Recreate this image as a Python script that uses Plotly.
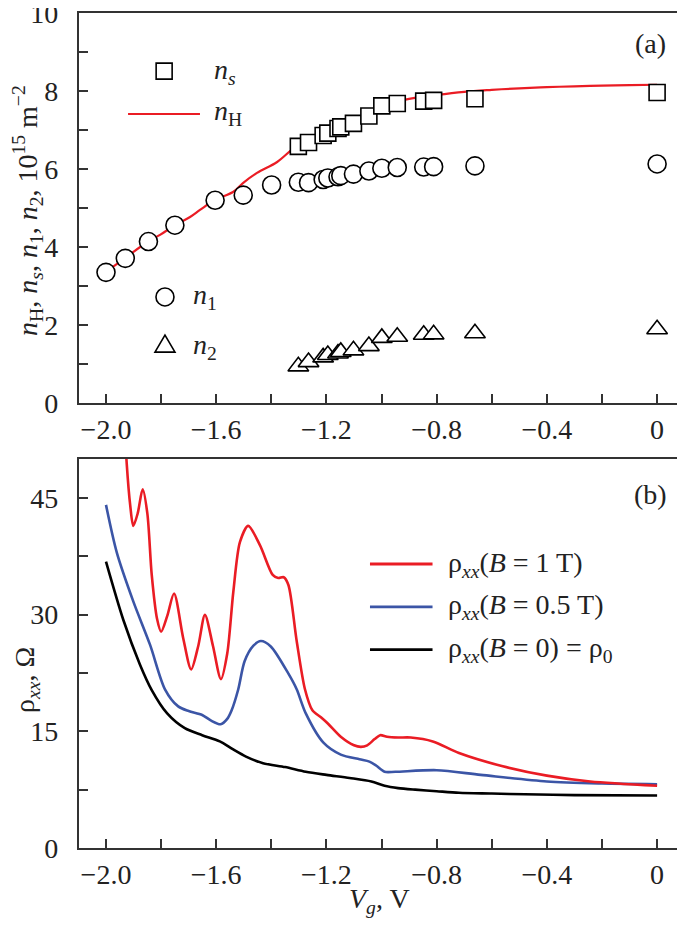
import plotly.graph_objects as go

# ---- panel (a): carrier densities, 10^15 m^-2 ----
vg_early = [-2.0, -1.93, -1.846, -1.75, -1.604, -1.502, -1.399]
n1_early = [3.35, 3.71, 4.14, 4.56, 5.20, 5.33, 5.59]

vg_common = [-1.302, -1.265, -1.212, -1.195, -1.158, -1.148, -1.102,
             -1.046, -0.999, -0.943, -0.847, -0.811, -0.661, 0.0]
n1_common = [5.66, 5.65, 5.73, 5.77, 5.80, 5.83, 5.87,
             5.95, 6.02, 6.04, 6.05, 6.06, 6.08, 6.13]
ns_vals = [6.58, 6.68, 6.86, 6.92, 7.04, 7.08, 7.17,
           7.36, 7.62, 7.68, 7.74, 7.76, 7.80, 7.96]
n2_vals = [0.94, 1.05, 1.17, 1.23, 1.27, 1.31, 1.35,
           1.46, 1.67, 1.70, 1.75, 1.76, 1.79, 1.89]

nh_vg = [-1.975, -1.93, -1.85, -1.804, -1.75, -1.695, -1.659, -1.604, -1.539,
         -1.503, -1.452, -1.379, -1.325, -1.30, -1.25, -1.20, -1.15, -1.10,
         -1.05, -1.00, -0.95, -0.90, -0.80, -0.70, -0.60, -0.50, -0.40,
         -0.30, -0.20, -0.10, 0.0]
nh_vals = [3.49, 3.72, 4.13, 4.31, 4.56, 4.77, 4.95, 5.21, 5.41,
           5.64, 5.90, 6.18, 6.50, 6.62, 6.76, 6.90, 7.05, 7.20,
           7.40, 7.62, 7.72, 7.80, 7.90, 7.98, 8.03, 8.07, 8.10,
           8.12, 8.14, 8.15, 8.16]

# ---- panel (b): rho_xx, Ohm ----
b1_vg = [-1.93, -1.925, -1.912, -1.901, -1.885, -1.867, -1.85, -1.834, -1.815,
         -1.800, -1.778, -1.753, -1.72, -1.691, -1.665, -1.641, -1.612, -1.583,
         -1.56, -1.538, -1.514, -1.484, -1.441, -1.395, -1.375, -1.355, -1.338,
         -1.308, -1.278, -1.251, -1.22, -1.195, -1.148, -1.10, -1.075, -1.052,
         -1.025, -1.005, -0.98, -0.94, -0.894, -0.814, -0.719, -0.56, -0.40,
         -0.243, 0.0]
b1_rho = [53, 49.5, 44, 41.4, 43, 46.1, 43, 35.1, 29.5,
          27.8, 29.8, 32.7, 27, 22.95, 26, 29.96, 26, 21.7,
          25, 32.9, 39.3, 41.4, 38.9, 35.1, 34.7, 34.8, 33.8,
          26.6, 20.4, 17.7, 16.8, 16.0, 14.3, 13.2, 13.0, 13.2,
          14.0, 14.5, 14.3, 14.2, 14.2, 13.7, 12.2, 10.5, 9.3,
          8.55, 8.0]

b05_vg = [-2.0, -1.961, -1.901, -1.840, -1.786, -1.738, -1.70, -1.651, -1.62,
          -1.584, -1.56, -1.544, -1.52, -1.497, -1.465, -1.438, -1.402, -1.338,
          -1.308, -1.275, -1.21, -1.148, -1.08, -1.044, -1.02, -0.989, -0.95,
          -0.8, -0.64, -0.40, -0.2, 0.0]
b05_rho = [44.1, 38.0, 31.7, 26.1, 20.4, 18.2, 17.6, 17.1, 16.4,
           15.9, 16.6, 17.7, 20.4, 24.0, 26.0, 26.6, 25.9, 22.4,
           20.4, 17.3, 13.5, 12.0, 11.4, 11.1, 10.6, 9.8, 9.8,
           10.0, 9.4, 8.55, 8.3, 8.2]

b0_vg = [-2.0, -1.937, -1.877, -1.834, -1.778, -1.714, -1.651, -1.587, -1.54,
         -1.492, -1.43, -1.35, -1.275, -1.20, -1.116, -1.037, -0.989, -0.94,
         -0.878, -0.80, -0.719, -0.60, -0.48, -0.30, 0.0]
b0_rho = [36.8, 29.3, 23.6, 20.3, 17.3, 15.4, 14.5, 13.7, 12.7,
          11.75, 10.9, 10.4, 9.8, 9.4, 9.0, 8.55, 8.0, 7.7,
          7.5, 7.3, 7.1, 7.0, 6.9, 6.8, 6.75]

x_ticks = [-2.0, -1.6, -1.2, -0.8, -0.4, 0.0]
x_ticktext = ["\u22122.0", "\u22121.6", "\u22121.2", "\u22120.8", "\u22120.4", "0"]
ya_ticks = [0, 2, 4, 6, 8, 10]
yb_ticks = [0, 15, 30, 45]

RED = "#ea1c24"
BLUE = "#3b55a6"
FONT = "Liberation Serif"
AXC = "#333333"
FS = 28

open_marker = lambda sym, size: dict(symbol=sym, size=size, color="white",
                                      line=dict(color="black", width=1.6))

fig = go.Figure()
fig.add_trace(go.Scatter(x=nh_vg, y=nh_vals, mode="lines", line=dict(color=RED, width=2.2, shape="spline"),
                         xaxis="x", yaxis="y", showlegend=False))
fig.add_trace(go.Scatter(x=vg_early + vg_common, y=n1_early + n1_common, mode="markers",
                         marker=open_marker("circle", 18), xaxis="x", yaxis="y", showlegend=False))
fig.add_trace(go.Scatter(x=vg_common, y=ns_vals, mode="markers",
                         marker=open_marker("square", 16), xaxis="x", yaxis="y", showlegend=False))
fig.add_trace(go.Scatter(x=vg_common, y=n2_vals, mode="markers",
                         marker=open_marker("triangle-up", 18), xaxis="x", yaxis="y", showlegend=False))

fig.add_trace(go.Scatter(x=b0_vg, y=b0_rho, mode="lines", line=dict(color="black", width=2.6, shape="spline", smoothing=0.8),
                         xaxis="x2", yaxis="y2", showlegend=False))
fig.add_trace(go.Scatter(x=b05_vg, y=b05_rho, mode="lines", line=dict(color=BLUE, width=2.6, shape="spline", smoothing=0.8),
                         xaxis="x2", yaxis="y2", showlegend=False))
fig.add_trace(go.Scatter(x=b1_vg, y=b1_rho, mode="lines", line=dict(color=RED, width=2.6, shape="spline", smoothing=0.8),
                         xaxis="x2", yaxis="y2", showlegend=False))

axis_common = dict(showline=True, linecolor=AXC, linewidth=2.4, mirror=True,
                   ticks="inside", ticklen=9, tickwidth=2, tickcolor=AXC,
                   showgrid=False, zeroline=False, automargin=False,
                   tickfont=dict(family=FONT, size=FS, color="#222"))
xaxis_common = dict(axis_common, range=[-2.098, 0.094], tickvals=x_ticks, ticktext=x_ticktext,
                    minor=dict(dtick=0.2, tick0=0, ticks="inside", ticklen=9, tickwidth=2, tickcolor=AXC),
                    ticklabelstandoff=0)

# the page body adds an 8 px offset, so margins are shifted to compensate
fig.update_layout(
    width=685, height=930,
    margin=dict(l=71, r=10, t=5, b=90, autoexpand=False),
    paper_bgcolor="white", plot_bgcolor="white",
    font=dict(family=FONT, size=FS, color="#222"),
    showlegend=False,
    xaxis=dict(xaxis_common, anchor="y", domain=[0, 1]),
    yaxis=dict(axis_common, anchor="x", domain=[0.5329, 1], range=[0, 10],
               tickvals=ya_ticks, ticktext=[str(t) for t in ya_ticks], ticklabeloverflow="allow",
               minor=dict(dtick=1, ticks="inside", ticklen=9, tickwidth=2, tickcolor=AXC),
               ticklabelstandoff=13),
    xaxis2=dict(xaxis_common, anchor="y2", domain=[0, 1]),
    yaxis2=dict(axis_common, anchor="x2", domain=[0, 0.4659], range=[0, 50],
                tickvals=yb_ticks, ticktext=[str(t) for t in yb_ticks],
                minor=dict(dtick=7.5, ticks="inside", ticklen=9, tickwidth=2, tickcolor=AXC),
                ticklabelstandoff=13),
)

# legend symbols for panel (a)
sym = dict(xref="x", yref="y", xsizemode="pixel", ysizemode="pixel",
           line=dict(color="black", width=1.6), fillcolor="white")
fig.add_shape(type="rect", xanchor=-1.789, yanchor=8.51, x0=-8, x1=8, y0=-8, y1=8, **sym)
fig.add_shape(type="circle", xanchor=-1.786, yanchor=2.72, x0=-9, x1=9, y0=-9, y1=9, **sym)
fig.add_shape(type="path", xanchor=-1.786, yanchor=1.46, path="M-10,-6 L10,-6 L0,11 Z", **sym)
fig.add_shape(type="line", xref="x", yref="y", x0=-1.92, x1=-1.659, y0=7.41, y1=7.41,
              line=dict(color=RED, width=2.2))

# legend lines for panel (b)
for yv, col in [(36.5, RED), (31.0, BLUE), (25.5, "black")]:
    fig.add_shape(type="line", xref="x2", yref="y2", x0=-1.042, x1=-0.815, y0=yv, y1=yv,
                  line=dict(color=col, width=2.8))

ann = dict(showarrow=False, font=dict(family=FONT, size=FS, color="#222"), yanchor="middle")
fig.add_annotation(x=-1.615, y=8.49, xref="x", yref="y", xanchor="left", text="<i>n<sub>s</sub></i>", **ann)
fig.add_annotation(x=-1.615, y=7.45, xref="x", yref="y", xanchor="left", text="<i>n</i><sub>H</sub>", **ann)
fig.add_annotation(x=-1.693, y=2.72, xref="x", yref="y", xanchor="left", text="<i>n</i><sub>1</sub>", **ann)
fig.add_annotation(x=-1.693, y=1.46, xref="x", yref="y", xanchor="left", text="<i>n</i><sub>2</sub>", **ann)
fig.add_annotation(x=-0.0254, y=9.23, xref="x", yref="y", xanchor="center", text="(a)", **ann)
fig.add_annotation(x=-0.0254, y=45.46, xref="x2", yref="y2", xanchor="center", text="(b)", **ann)

fig.add_annotation(x=-0.767, y=36.5, xref="x2", yref="y2", xanchor="left",
                   text="\u03c1<sub><i>xx</i></sub>(<i>B</i> = 1 T)", **ann)
fig.add_annotation(x=-0.767, y=31.0, xref="x2", yref="y2", xanchor="left",
                   text="\u03c1<sub><i>xx</i></sub>(<i>B</i> = 0.5 T)", **ann)
fig.add_annotation(x=-0.767, y=25.5, xref="x2", yref="y2", xanchor="left",
                   text="\u03c1<sub><i>xx</i></sub>(<i>B</i> = 0) = \u03c1<sub>0</sub>", **ann)

# axis titles
fig.add_annotation(x=-0.0844, y=0.763, xref="paper", yref="paper", textangle=-90, xanchor="center",
                   text="<i>n</i><sub>H</sub>, <i>n<sub>s</sub></i>, <i>n</i><sub>1</sub>, <i>n</i><sub>2</sub>, 10<sup>15</sup> m<sup>\u22122</sup>",
                   **ann)
fig.add_annotation(x=-0.088, y=0.201, xref="paper", yref="paper", textangle=-90, xanchor="center",
                   text="\u03c1<sub><i>xx</i></sub>, \u03a9", **ann)
fig.add_annotation(x=0.498, y=-0.0623, xref="paper", yref="paper", xanchor="center",
                   text="<i>V<sub>g</sub></i>, V", **ann)

fig.write_html("out.html")
